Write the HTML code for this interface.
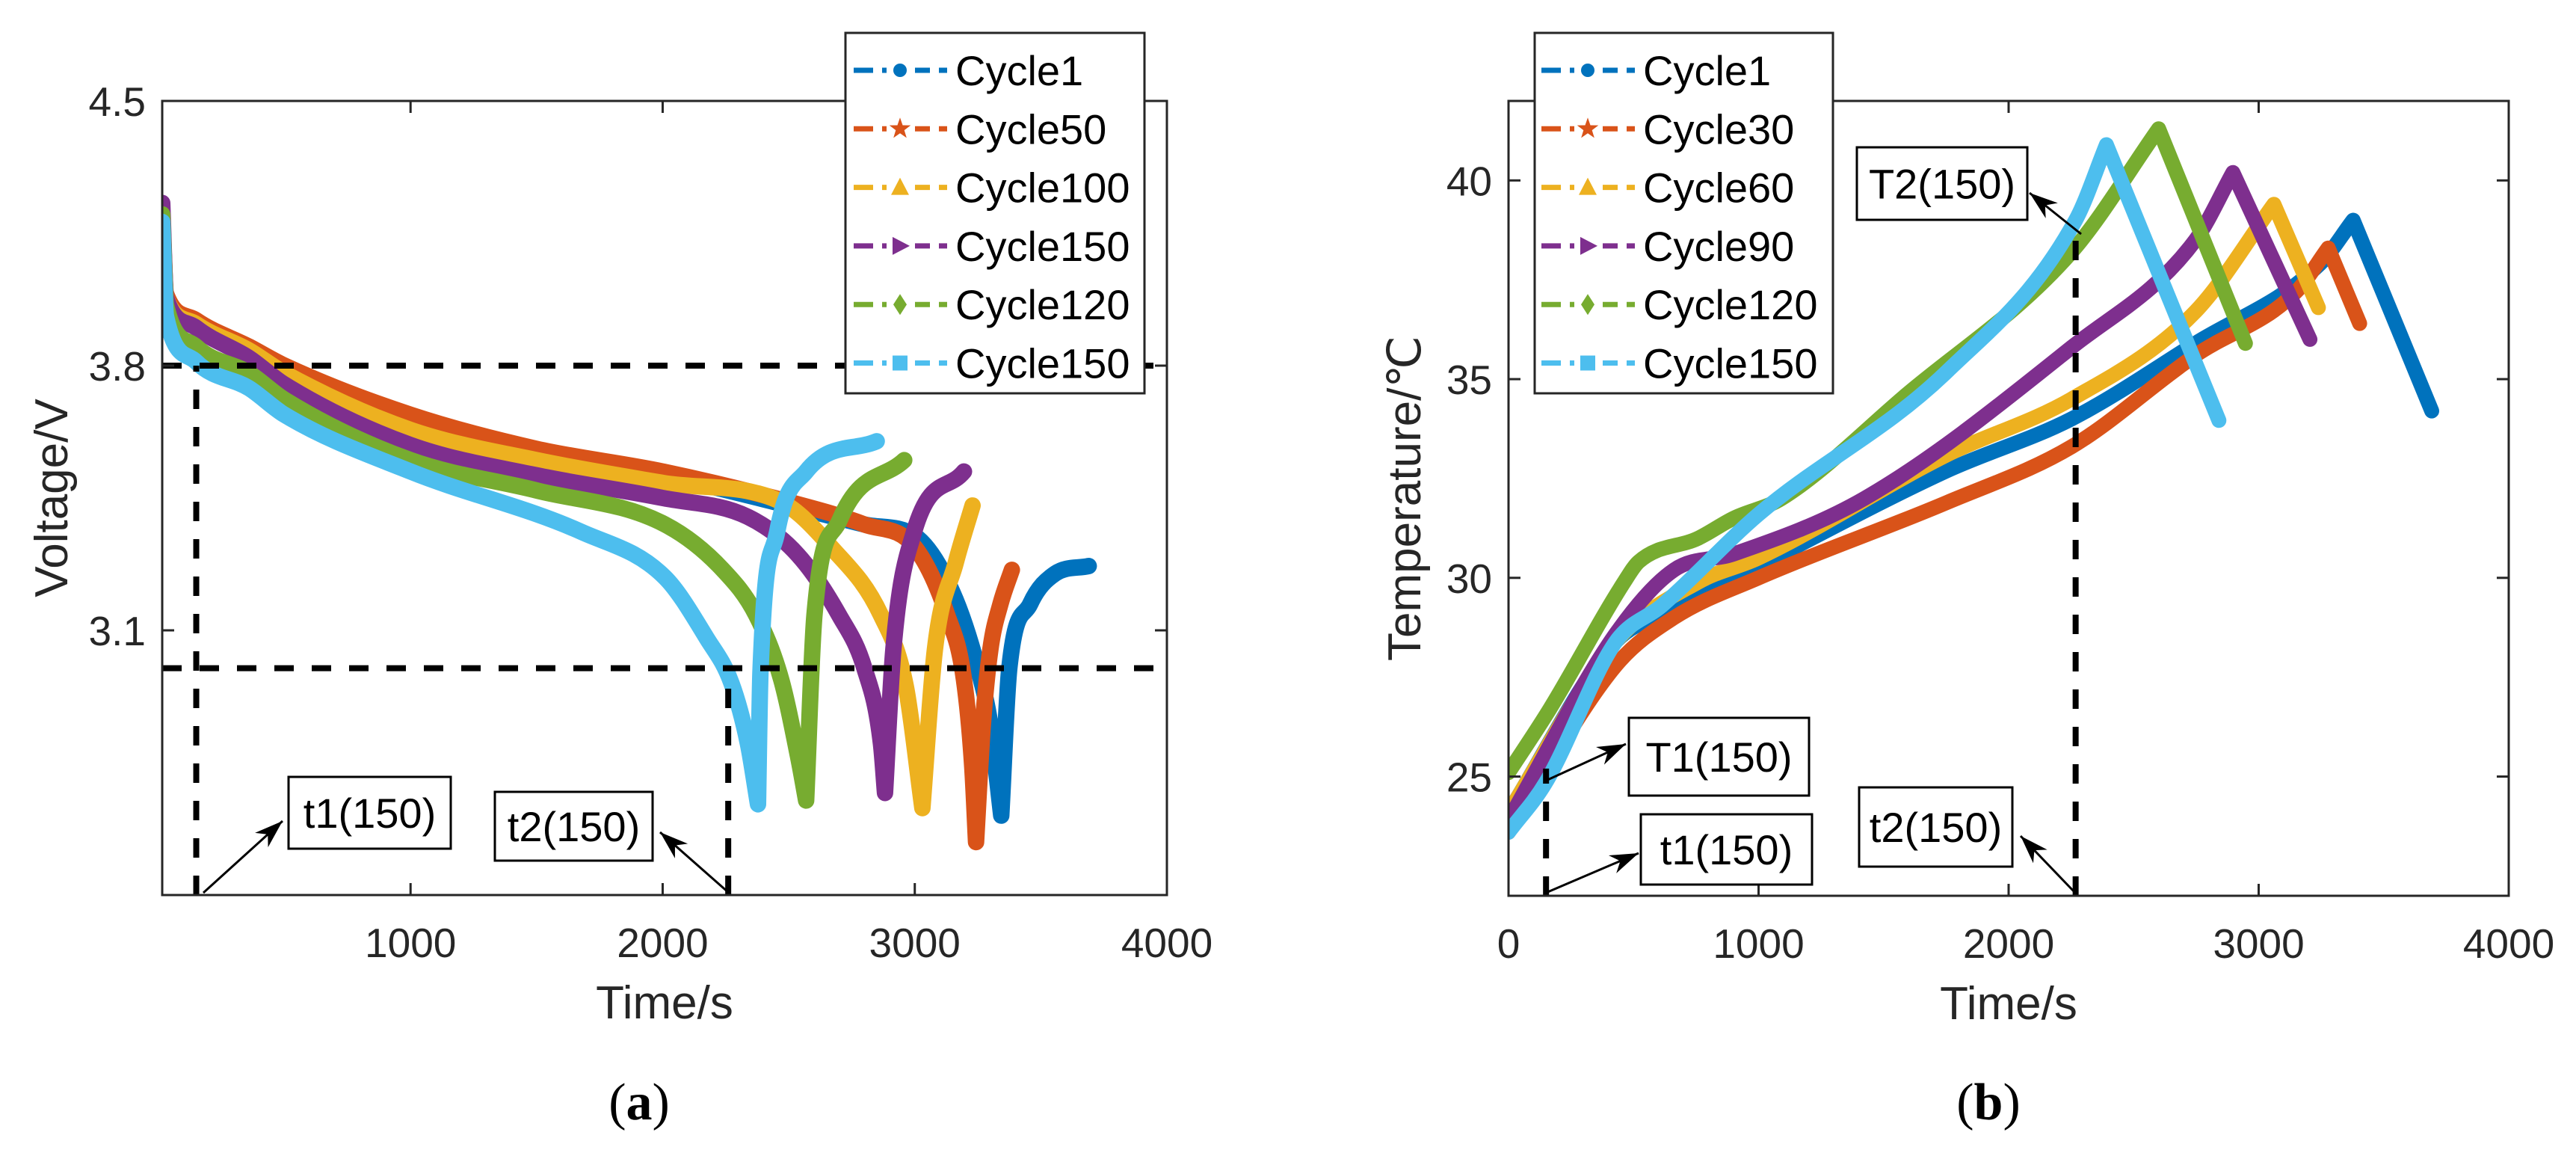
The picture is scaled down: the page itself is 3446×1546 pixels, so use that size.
<!DOCTYPE html>
<html><head><meta charset="utf-8"><style>
html,body{margin:0;padding:0;background:#fff;}
svg{display:block;font-family:"Liberation Sans",Arial,sans-serif;}
</style></head><body>
<svg id="fig" width="3446" height="1546" viewBox="0 0 3446 1546" xmlns="http://www.w3.org/2000/svg">
<rect width="3446" height="1546" fill="#fff"/>
<g id="plotA"></g>
<g id="plotB"></g>
<text x="855" y="1497" text-anchor="middle" font-family="Liberation Serif,serif" font-size="70">(<tspan font-weight="bold">a</tspan>)</text>
<text x="2660" y="1497" text-anchor="middle" font-family="Liberation Serif,serif" font-size="70">(<tspan font-weight="bold">b</tspan>)</text>
</svg>
<script>
const colors=["#0072BD","#D95319","#EDB120","#7E2F8E","#77AC30","#4DBEEE"];
const markersA=["dot","star","tri","rtri","diamond","square"];
// ---- Chart A: voltage
const namesA=["Cycle1","Cycle50","Cycle100","Cycle150","Cycle120","Cycle150"];
const tA1=[15,30,150,360,500,1000,1500,2000,2500,2800,3000,3150,3250,3300,3343,3375,3458,3557,3690];
const vA1=[4.2,3.98,3.91,3.84,3.79,3.66,3.57,3.51,3.43,3.38,3.35,3.2,3.0,2.85,2.61,3.0,3.17,3.25,3.27];
const tA2=[15,30,150,360,500,1000,1500,2000,2500,2800,3000,3129,3195,3228,3243,3270,3300,3340,3385];
const vA2=[4.2,3.99,3.92,3.85,3.8,3.67,3.58,3.52,3.44,3.38,3.32,3.14,2.97,2.74,2.54,2.85,3.05,3.17,3.26];
const tA3=[15,30,150,360,500,1000,1500,2000,2469,2668,2866,2965,3030,3080,3163,3229];
const vA3=[4.2,3.98,3.91,3.84,3.78,3.63,3.55,3.49,3.44,3.32,3.14,2.95,2.63,3.05,3.28,3.43];
const tA4=[15,30,150,360,500,1000,1500,2000,2338,2536,2700,2800,2866,2882,2915,2997,3195];
const vA4=[4.23,3.98,3.90,3.82,3.75,3.59,3.51,3.45,3.40,3.30,3.14,3.0,2.80,2.67,3.05,3.36,3.52];
const tA5=[15,30,150,360,500,1000,1500,2009,2239,2371,2470,2536,2569,2602,2701,2958];
const vA5=[4.2,3.96,3.85,3.78,3.71,3.55,3.47,3.38,3.26,3.14,2.97,2.77,2.65,3.14,3.39,3.55];
const tA6=[15,30,150,360,500,1000,1679,2009,2174,2273,2338,2378,2388,2454,2569,2849];
const vA6=[4.18,3.93,3.81,3.74,3.67,3.52,3.36,3.24,3.08,2.96,2.80,2.64,2.99,3.36,3.52,3.60];
const xTicksA=[1000,2000,3000,4000];
const yTicksA=[3.1,3.8,4.5];
// ---- Chart B: temperature
const namesB=["Cycle1","Cycle30","Cycle60","Cycle90","Cycle120","Cycle150"];
const tB1=[0,430,662,1000,1755,2252,2747,3245,3378,3692];
const TB1=[24.1,28.4,29.2,30.3,32.7,34.0,35.9,37.9,39.0,34.2];
const tB2=[0,430,662,1000,1755,2252,2747,3150,3278,3404];
const TB2=[23.6,27.8,29.0,30.0,31.9,33.3,35.6,37.2,38.3,36.4];
const tB3=[0,430,761,1000,1755,2252,2747,3061,3239];
const TB3=[24.1,28.4,29.9,30.5,33.1,34.5,36.7,39.4,36.8];
const tB4=[0,430,662,900,1424,2252,2747,2897,3205];
const TB4=[23.9,28.6,30.2,30.6,32.0,35.8,38.5,40.2,36.0];
const tB5=[0,165,463,520,760,900,1093,1590,2252,2600,2947];
const TB5=[25.1,26.7,29.9,30.4,31.0,31.5,32.0,34.6,38.2,41.3,35.9];
const tB6=[0,149,430,613,1000,1755,2268,2391,2841];
const TB6=[23.6,24.85,28.4,29.3,31.6,35.2,39.0,40.9,33.96];
const xTicksB=[0,1000,2000,3000,4000];
const yTicksB=[25,30,35,40];

const NS="http://www.w3.org/2000/svg";
function mk(parent,tag,attrs){const e=document.createElementNS(NS,tag);for(const k in attrs)e.setAttribute(k,attrs[k]);parent.appendChild(e);return e;}
// smooth path with sharp corners at local extrema
function cornerPath(px,py){
  const n=px.length;if(n<2)return "";
  const d=[];
  for(let i=0;i<n-1;i++)d.push((py[i+1]-py[i])/((px[i+1]-px[i])||1e-6));
  const mL=new Array(n),mR=new Array(n);
  mL[0]=mR[0]=d[0];mL[n-1]=mR[n-1]=d[n-2];
  for(let i=1;i<n-1;i++){
    if(d[i-1]*d[i]<=0){mL[i]=d[i-1];mR[i]=d[i];}
    else{const m=(d[i-1]+d[i])/2;const lim=Math.min(Math.abs(d[i-1]),Math.abs(d[i]))*3;const mm=Math.sign(m)*Math.min(Math.abs(m),lim);mL[i]=mR[i]=mm;}
  }
  let p="M"+px[0].toFixed(1)+","+py[0].toFixed(1);
  for(let i=0;i<n-1;i++){
    const h=(px[i+1]-px[i])/3;
    p+=" C"+(px[i]+h).toFixed(1)+","+(py[i]+mR[i]*h).toFixed(1)+" "+(px[i+1]-h).toFixed(1)+","+(py[i+1]-mL[i+1]*h).toFixed(1)+" "+px[i+1].toFixed(1)+","+py[i+1].toFixed(1);
  }
  return p;
}
function marker(g,type,cx,cy,col){
  if(type==="dot") return mk(g,"circle",{cx:cx,cy:cy,r:9,fill:col});
  if(type==="square") return mk(g,"rect",{x:cx-10,y:cy-10,width:20,height:20,fill:col});
  let p;
  if(type==="tri") p=[[0,-13],[12,10],[-12,10]];
  else if(type==="rtri") p=[[13,0],[-10,-12],[-10,12]];
  else if(type==="diamond") p=[[0,-14],[9,0],[0,14],[-9,0]];
  else {p=[];for(let i=0;i<10;i++){const r=i%2?6:15,a=-Math.PI/2+i*Math.PI/5;p.push([r*Math.cos(a),r*Math.sin(a)]);}}
  return mk(g,"polygon",{points:p.map(q=>(cx+q[0])+","+(cy+q[1])).join(" "),fill:col});
}
function drawChart(gid,cfg,ts,vs,names,xt,yt,yfmt,ytitle,legend,annot){
  const g=document.getElementById(gid);
  const sx=v=>cfg.x0+(v-cfg.xmin)/(cfg.xmax-cfg.xmin)*(cfg.x1-cfg.x0);
  const sy=v=>cfg.y1-(v-cfg.ymin)/(cfg.ymax-cfg.ymin)*(cfg.y1-cfg.y0);
  const clip=mk(g,"clipPath",{id:gid+"clip"});
  mk(clip,"rect",{x:cfg.x0,y:cfg.y0,width:cfg.x1-cfg.x0,height:cfg.y1-cfg.y0});
  const data=mk(g,"g",{"clip-path":"url(#"+gid+"clip)"});
  
  
  for(let s=0;s<ts.length;s++){
    const px=ts[s].map(sx),py=vs[s].map(sy);
    const pl=mk(data,"path",{d:cornerPath(px,py),fill:"none",stroke:colors[s],"stroke-width":cfg.lw,"stroke-linejoin":"round","stroke-linecap":"round"});
    
    
  }
  annot.guides.forEach(d=>{
    const l=mk(data,"line",{x1:sx(d[0]),y1:sy(d[1]),x2:sx(d[2]),y2:sy(d[3]),stroke:"#000","stroke-width":8,"stroke-dasharray":"26 24"});
    
    
  });
  const box=mk(g,"rect",{x:cfg.x0,y:cfg.y0,width:cfg.x1-cfg.x0,height:cfg.y1-cfg.y0,fill:"none",stroke:"#262626","stroke-width":3});
  
  
  xt.forEach(v=>{
    const x=sx(v);
    mk(g,"line",{x1:x,y1:cfg.y1,x2:x,y2:cfg.y1-16,stroke:"#262626","stroke-width":3});
    mk(g,"line",{x1:x,y1:cfg.y0,x2:x,y2:cfg.y0+16,stroke:"#262626","stroke-width":3});
    const t=mk(g,"text",{x:x,y:cfg.y1+83,"text-anchor":"middle","font-size":55,fill:"#262626"});
    t.textContent=v;
    
    
  });
  yt.forEach(v=>{
    const y=sy(v);
    mk(g,"line",{x1:cfg.x0,y1:y,x2:cfg.x0+16,y2:y,stroke:"#262626","stroke-width":3});
    mk(g,"line",{x1:cfg.x1,y1:y,x2:cfg.x1-16,y2:y,stroke:"#262626","stroke-width":3});
    const t=mk(g,"text",{x:cfg.x0-22,y:y+20,"text-anchor":"end","font-size":55,fill:"#262626"});
    t.textContent=yfmt(v);
    
    
  });
  const xtl=mk(g,"text",{x:(cfg.x0+cfg.x1)/2,y:cfg.y1+165,"text-anchor":"middle","font-size":62,fill:"#262626"});
  xtl.textContent="Time/s";
  
  
  const ytl=mk(g,"text",{x:0,y:0,"text-anchor":"middle","font-size":62,fill:"#262626",transform:"translate("+cfg.ytx+","+((cfg.y0+cfg.y1)/2)+") rotate(-90)"});
  ytl.textContent=ytitle;
  
  
  annot.boxes.forEach(b=>{
    const bg=mk(g,"g",{});
    
    
    mk(bg,"rect",{x:b[0],y:b[1],width:b[2],height:b[3],fill:"#fff",stroke:"#000","stroke-width":3});
    const t=mk(bg,"text",{x:b[0]+b[2]/2,y:b[1]+b[3]/2+20,"text-anchor":"middle","font-size":56,fill:"#000"});
    t.textContent=b[4];
  });
  annot.arrows.forEach(a=>{
    const ag=mk(g,"g",{});
    
    
    const [x1,y1,x2,y2]=a;
    mk(ag,"line",{x1:x1,y1:y1,x2:x2,y2:y2,stroke:"#000","stroke-width":3});
    const ang=Math.atan2(y2-y1,x2-x1),L=38,W=13;
    const bx=x2-L*Math.cos(ang),by=y2-L*Math.sin(ang);
    const ix=x2-L*0.7*Math.cos(ang),iy=y2-L*0.7*Math.sin(ang);
    mk(ag,"polygon",{points:[x2+","+y2,(bx-W*Math.sin(ang))+","+(by+W*Math.cos(ang)),ix+","+iy,(bx+W*Math.sin(ang))+","+(by-W*Math.cos(ang))].join(" "),fill:"#000"});
  });
  const lg=mk(g,"g",{});
  
  
  mk(lg,"rect",{x:legend.x,y:44,width:legend.w,height:482,fill:"#fff",stroke:"#262626","stroke-width":3});
  names.forEach((n,i)=>{
    const y=94+i*78.3;
    const e=mk(lg,"g",{});
    
    
    mk(e,"line",{x1:legend.lx,y1:y,x2:legend.lx+125,y2:y,stroke:colors[i],"stroke-width":7,"stroke-dasharray":"26 12"});
    mk(e,"rect",{x:legend.lx+44,y:y-12,width:38,height:24,fill:"#fff"});
    marker(e,markersA[i],legend.lx+62,y,colors[i]);
    const t=mk(e,"text",{x:legend.lx+136,y:y+20,"font-size":56,fill:"#000"});
    t.textContent=n;
  });
}
const cfgA={x0:217,x1:1561,y0:135,y1:1197,xmin:15,xmax:4000,ymin:2.4,ymax:4.5,lw:22,ytx:90};
drawChart("plotA",cfgA,[tA1,tA2,tA3,tA4,tA5,tA6],[vA1,vA2,vA3,vA4,vA5,vA6],namesA,xTicksA,yTicksA,v=>v.toFixed(1),"Voltage/V",
 {x:1131,w:400,lx:1142},
 {guides:[[15,3.8,4000,3.8],[15,3.0,4000,3.0],[150,2.4,150,3.8],[2260,2.4,2260,3.0]],
  boxes:[[386,1039,217,96,"t1(150)"],[662,1059,211,92,"t2(150)"]],
  arrows:[[272,1194,378,1098],[975,1194,883,1113]]});
const cfgB={x0:2018,x1:3356,y0:135,y1:1198,xmin:0,xmax:4000,ymin:22,ymax:42,lw:20,ytx:1900};
drawChart("plotB",cfgB,[tB1,tB2,tB3,tB4,tB5,tB6],[TB1,TB2,TB3,TB4,TB5,TB6],namesB,xTicksB,yTicksB,v=>String(v),"Temperature/\u2103",
 {x:2053,w:399,lx:2062},
 {guides:[[150,22,150,25.2],[2268,22,2268,38.9]],
  boxes:[[2179,960,241,104,"T1(150)"],[2195,1089,229,94,"t1(150)"],[2487,1053,205,106,"t2(150)"],[2484,197,228,97,"T2(150)"]],
  arrows:[[2068,1044,2175,995],[2068,1194,2192,1141],[2776,1194,2703,1118],[2784,313,2715,258]]});
</script>
</body></html>
